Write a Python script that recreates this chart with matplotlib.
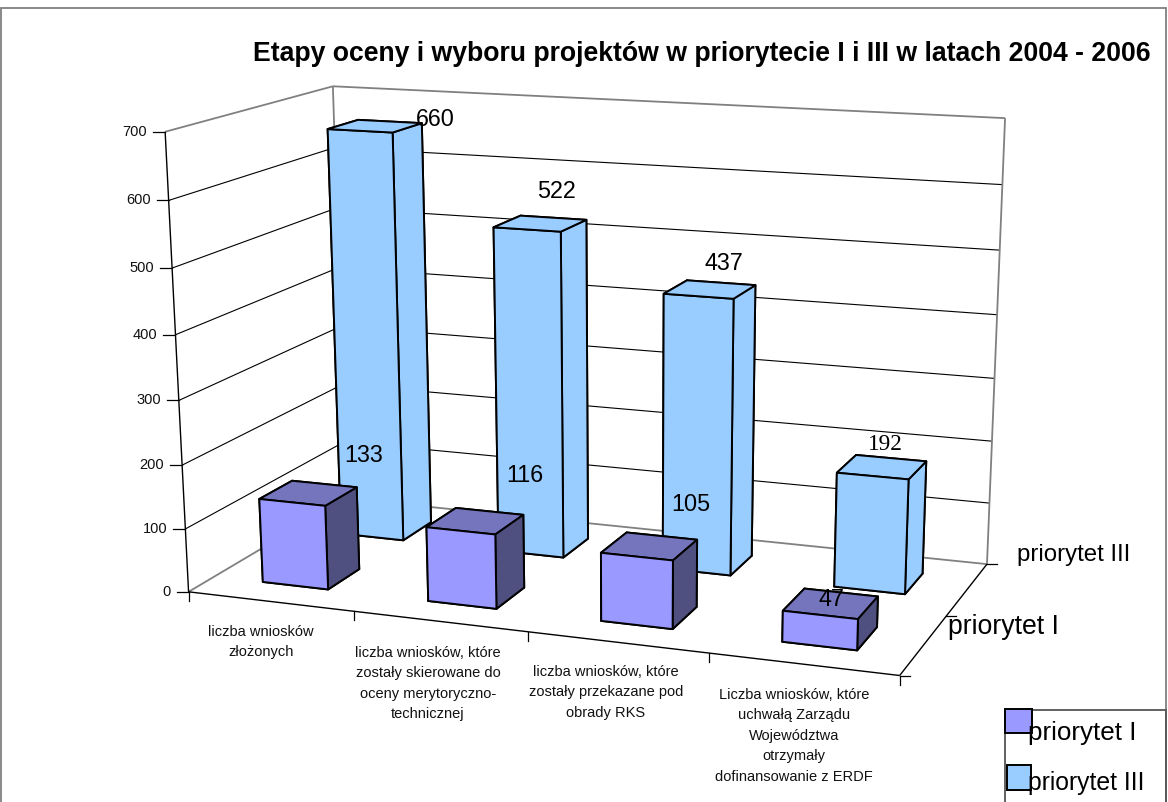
import numpy as np
import matplotlib
matplotlib.use("Agg")
import matplotlib.pyplot as plt
from matplotlib.lines import Line2D
from matplotlib.patches import Patch, Rectangle
from matplotlib.legend_handler import HandlerPatch

plt.rcParams['font.family'] = ['Liberation Sans', 'DejaVu Sans']

# ---------- data ----------
title = "Etapy oceny i wyboru projektów w priorytecie I i III w latach 2004 - 2006"
categories = ["liczba wniosków\nzłożonych",
              "liczba wniosków, które\nzostały skierowane do\noceny merytoryczno-\ntechnicznej",
              "liczba wniosków, które\nzostały przekazane pod\nobrady RKS",
              "Liczba wniosków, które\nuchwałą Zarządu\nWojewództwa\notrzymały\ndofinansowanie z ERDF"]
series_names = ["priorytet I", "priorytet III"]
priorytet_I = [133, 116, 105, 47]
# the last column stands lower than its hand-typed label says
priorytet_III = [660, 522, 437, 181]
labels_I = ["133", "116", "105", "47"]
labels_III = ["660", "522", "437", "192"]
value_ticks = [0, 100, 200, 300, 400, 500, 600, 700]

# ---------- layout ----------
W, H = 1168, 802
ZMAX = 700
BAR = 0.4
# camera calibration: (category, series, value) -> image pixel
calib = [
    (0, 0, 0, 187.3, 592.3), (0, 0, 700, 166.7, 131.7), (0, 0, 600, 170.0, 199.7),
    (0, 0, 500, 172.3, 268.3), (0, 0, 200, 181.7, 465.7), (0, 0, 100, 184.3, 529.0),
    (0, 2, 700, 330.0, 86.7), (4, 2, 700, 1006.0, 118.3), (4, 2, 600, 1002.0, 184.3),
    (4, 2, 0, 986.0, 565.0), (4, 0, 0, 899.3, 674.3), (0, 2, 0, 349.0, 497.0),
    (1, 0, 0, 354.0, 612.3), (2, 0, 0, 527.3, 631.7), (3, 0, 0, 709.3, 652.3),
    (4, 1, 0, 947.0, 617.0),
]
rows = []
for X, Y, Z, u, v in calib:
    w = [X, Y, Z / 100.0, 1.0]
    rows.append(w + [0, 0, 0, 0] + [-u * c for c in w])
    rows.append([0, 0, 0, 0] + w + [-v * c for c in w])
P = np.linalg.svd(np.array(rows, float))[2][-1].reshape(3, 4)
P = P @ np.diag([1, 1, 0.01, 1])
if (P[2] @ [2, 1, 300, 1]) < 0:
    P = -P


def project(x, y, z):
    r = P @ [x, y, z, 1]
    return r[0] / r[2], r[1] / r[2]


def fig_xy(u, v):
    return u / W, 1 - v / H


fig = plt.figure(figsize=(W / 100, H / 100), dpi=100, facecolor='white')
side = W / H
ax = fig.add_axes([0, (1 - side) / 2, 1, side], projection='3d', computed_zorder=False)
ax.set_axis_off()


def fitted_proj():
    to_display = np.array([[1, 0, 0], [0, -1, H], [0, 0, 1.0]])
    to_data = ax.transData.inverted().get_matrix()
    Q = to_data @ to_display @ P
    return np.array([Q[0], Q[1], [0, 0, 0, -1.0], Q[2]])


ax.get_proj = fitted_proj

GREY = '#808080'
BLACK = '#000000'


def edge(a, b, color, lw):
    ax.plot([a[0], b[0]], [a[1], b[1]], [a[2], b[2]], color=color, lw=lw,
            zorder=1, solid_capstyle='butt')


NC = len(categories)
for v in value_ticks[1:-1]:
    edge((0, 0, v), (0, 2, v), BLACK, 0.8)
    edge((0, 2, v), (NC, 2, v), BLACK, 0.8)
edge((0, 0, ZMAX), (0, 2, ZMAX), GREY, 1.3)
edge((0, 2, ZMAX), (NC, 2, ZMAX), GREY, 1.3)
edge((0, 2, 0), (0, 2, ZMAX), GREY, 1.3)
edge((NC, 2, 0), (NC, 2, ZMAX), GREY, 1.3)
edge((0, 0, 0), (0, 2, 0), GREY, 1.3)
edge((0, 2, 0), (NC, 2, 0), GREY, 1.3)
edge((0, 0, 0), (0, 0, ZMAX), BLACK, 1.0)
edge((0, 0, 0), (NC, 0, 0), BLACK, 1.0)
edge((NC, 0, 0), (NC, 2, 0), BLACK, 1.0)

# order of bar3d faces: -Z, +Z, -Y, +Y, -X, +X
faces_I = ['#4F4F80', '#7575BD', '#9999FF', '#4F4F80', '#4F4F80', '#4F4F80']
faces_III = ['#99CCFF'] * 6
offset = (1 - BAR) / 2
z = 10
for s, (vals, faces) in reversed(list(enumerate([(priorytet_I, faces_I), (priorytet_III, faces_III)]))):
    for c, val in enumerate(vals):
        ax.bar3d(c + offset, s + offset, 0, BAR, BAR, val, color=faces, shade=False,
                 edgecolor='black', linewidth=1.4, zorder=z)
        z += 1


def px_line(u0, v0, u1, v1, color='black', lw=0.9):
    a, b = fig_xy(u0, v0), fig_xy(u1, v1)
    fig.add_artist(Line2D([a[0], b[0]], [a[1], b[1]], color=color, lw=lw,
                          transform=fig.transFigure))


# value axis ticks and labels
for v in value_ticks:
    u, w = project(0, 0, v)
    px_line(u - 12, w, u, w)
    fx, fy = fig_xy(u - 18, w)
    fig.text(fx, fy, str(v), fontsize=10.5, ha='right', va='center', color='#111111')
# category ticks
for i in range(NC + 1):
    u, w = project(i, 0, 0)
    px_line(u, w, u, w + 9)
# series ticks
for j in range(3):
    u, w = project(NC, j, 0)
    px_line(u, w, u + 10, w)

# category labels
cat_pos = [(261, 625), (428, 646), (606, 665), (794, 688)]
for (u, v), lab in zip(cat_pos, categories):
    fx, fy = fig_xy(u, v)
    fig.text(fx, fy, lab, fontsize=10.5, ha='center', va='top', linespacing=1.58, color='#111111')

# series labels
fx, fy = fig_xy(1074, 555)
fig.text(fx, fy, series_names[1], fontsize=17.3, ha='center', va='center')
fx, fy = fig_xy(1003, 627)
fig.text(fx, fy, series_names[0], fontsize=19.2, ha='center', va='center')

# data labels
pos_I = [(364, 456), (525, 476), (691, 504), (831, 599)]
pos_III = [(435, 119), (556, 192), (724, 264), (885, 445)]
for labs, pos in ((labels_I, pos_I), (labels_III, pos_III)):
    for k, (lab, (u, v)) in enumerate(zip(labs, pos)):
        fx, fy = fig_xy(u, v)
        fam = 'Liberation Serif' if (labs is labels_III and k == 3) else 'Liberation Sans'
        fig.text(fx, fy, lab, fontsize=16.8, ha='center', va='center', family=fam)

# title
fx, fy = fig_xy(702, 54)
fig.text(fx, fy, title, fontsize=19.2, fontweight='bold', ha='center', va='center')

# outer frame and legend frame
x0, y1 = fig_xy(0.8, 8)
x1, y0 = fig_xy(1166, 830)
fig.add_artist(Rectangle((x0, y0), x1 - x0, y1 - y0, fill=False, edgecolor=GREY, lw=1.3,
                         transform=fig.transFigure))
x0, y1 = fig_xy(1005, 710)
x1, y0 = fig_xy(1166, 830)
fig.add_artist(Rectangle((x0, y0), x1 - x0, y1 - y0, fill=False, edgecolor='#555555', lw=1.3,
                         transform=fig.transFigure))


def key_patch(dx, dy, wpx, hpx):
    def make(legend, orig_handle, xdescent, ydescent, width, height, fontsize):
        return Rectangle((dx * 0.72 - xdescent, dy * 0.72 - ydescent), wpx * 0.72, hpx * 0.72)
    return HandlerPatch(patch_func=make)


h1 = Patch(facecolor='#9999FF', edgecolor='black', linewidth=1.4, label=series_names[0])
h2 = Patch(facecolor='#99CCFF', edgecolor='black', linewidth=1.4, label=series_names[1])
leg = fig.legend(handles=[h1, h2], loc='upper left', bbox_to_anchor=fig_xy(1005, 719),
                 bbox_transform=fig.transFigure, frameon=False, fontsize=18.7, borderpad=0,
                 borderaxespad=0, handlelength=1.05, handleheight=1.0, handletextpad=-0.15,
                 labelspacing=0.95,
                 handler_map={h1: key_patch(0, 9, 27, 24), h2: key_patch(2, 2, 24, 25)})
leg.get_texts()[1].set_fontsize(17.8)

fig.savefig('out.png', dpi=100)
